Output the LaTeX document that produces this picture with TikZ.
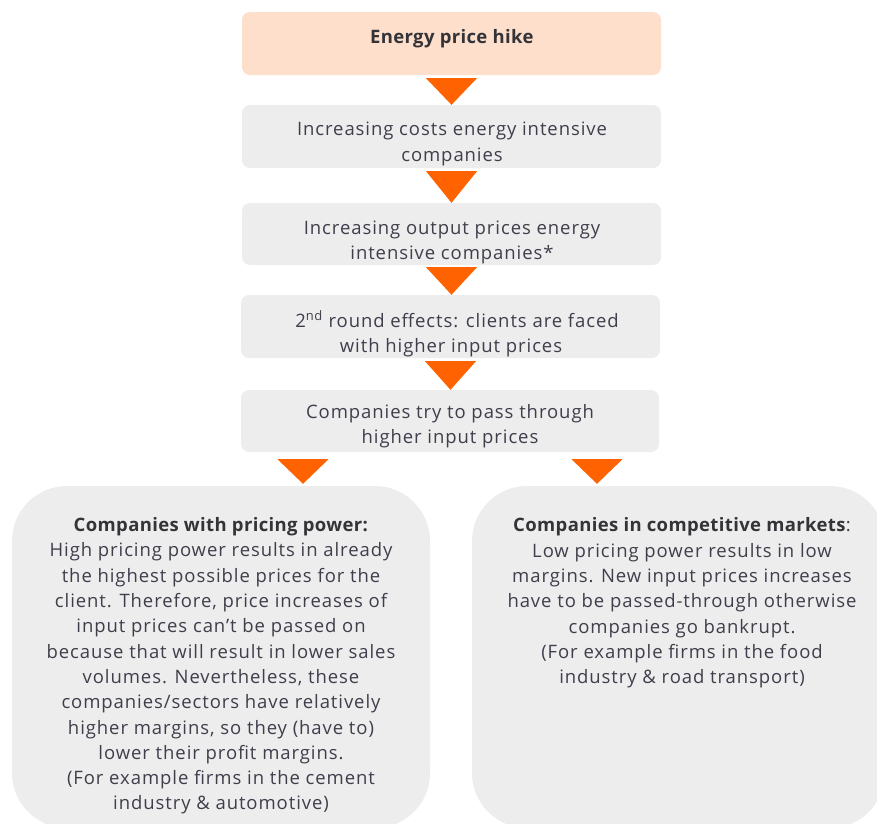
\documentclass[tikz,border=0pt]{standalone}
\usepackage{fontspec}
\setmainfont{Open Sans}[LetterSpace=5.0, BoldFeatures={LetterSpace=2.0}]
\usetikzlibrary{calc}
\definecolor{ingorange}{HTML}{FF6200}
\definecolor{boxgray}{HTML}{EDEDED}
\definecolor{peach}{HTML}{FDDFCB}
\definecolor{inktext}{HTML}{3F3F4C}
\definecolor{headink}{HTML}{333338}

\begin{document}
\begin{tikzpicture}[x=1pt,y=-1pt,
  stepbox/.style={rectangle, rounded corners=8pt, fill=boxgray,
    minimum width=419pt, minimum height=63pt, inner sep=0pt},
  bigbox/.style={rectangle, rounded corners=55pt, fill=boxgray, inner sep=0pt},
  boxtext/.style={align=center, text=inktext, inner sep=0pt,
    font=\fontsize{18.5}{25.3}\selectfont},
  pointer/.style={fill=ingorange}
]
\useasboundingbox (0,0) rectangle (877,823);

% chain of step boxes
\node[stepbox, fill=peach] (b1) at (451.5,43.5) {};
\node[stepbox] (b2) at (451.5,136.5) {};
\node[stepbox, minimum height=62pt] (b3) at (451.5,234) {};
\node[stepbox] (b4) at (450.5,326.5) {};
\node[stepbox, minimum width=418pt, minimum height=62pt] (b5) at (450,421) {};

% the two outcome boxes
\node[bigbox, minimum width=418pt, minimum height=342pt] (L) at (221,657) {};
\node[bigbox, minimum width=413pt, minimum height=342pt] (R) at (678.5,657) {};

% texts
\node[boxtext, text=headink] (t1) at (452,39) {\textbf{Energy price hike}};
\node[boxtext] (t2) at (452,144) {Increasing costs energy intensive\\companies};
\node[boxtext] (t3) at (452,242.5) {Increasing output prices energy\\intensive companies*};
\node[boxtext] (t4) at (451,334) {\hspace*{12pt}2\textsuperscript{nd} round effects: clients are faced\\with higher input prices};
\node[boxtext] (t5) at (450,426.5) {Companies try to pass through\\higher input prices};

\node[boxtext] (tL) at (221,666) {\textcolor{headink}{\textbf{Companies with pricing power:}}\\
High pricing power results in already\\
the highest possible prices for the\\
client. Therefore, price increases of\\
input prices can't be passed on\\
because that will result in lower sales\\
volumes. Nevertheless, these\\
companies/sectors have relatively\\
higher margins, so they (have to)\\
lower their profit margins.\\
(For example firms in the cement\\
industry \& automotive)};

\node[boxtext] (tR) at (682,603) {\textcolor{headink}{\textbf{Companies in competitive markets}}:\\
Low pricing power results in low\\
margins. New input prices increases\\
have to be passed-through otherwise\\
companies go bankrupt.\\
(For example firms in the food\\
industry \& road transport)};

% orange pointers between the steps
\fill[pointer] ($(b1.south)+(-25.5,3)$) -- ($(b1.south)+(25.5,3)$) -- (b1.south |- b2.north) -- cycle;
\fill[pointer] ($(b2.south)+(-25.5,3)$) -- ($(b2.south)+(25.5,3)$) -- (b2.south |- b3.north) -- cycle;
\fill[pointer] ($(b3.south)+(-25.5,2)$) -- ($(b3.south)+(25.5,2)$) -- (b3.south |- b4.north) -- cycle;
\fill[pointer] ($(b4.south)+(-25.5,3)$) -- ($(b4.south)+(25.5,3)$) -- (b4.south |- b5.north) -- cycle;

% split into the two outcomes
\coordinate (lp) at ($(b5.south)+(-147,7)$);
\coordinate (rp) at ($(b5.south)+(147,7)$);
\fill[pointer] ($(lp)+(-25.5,0)$) -- ($(lp)+(25.5,0)$) -- ($(lp |- L.north)+(0,-2)$) -- cycle;
\fill[pointer] ($(rp)+(-25.5,0)$) -- ($(rp)+(25.5,0)$) -- ($(rp |- R.north)+(0,-2)$) -- cycle;
\end{tikzpicture}
\end{document}
